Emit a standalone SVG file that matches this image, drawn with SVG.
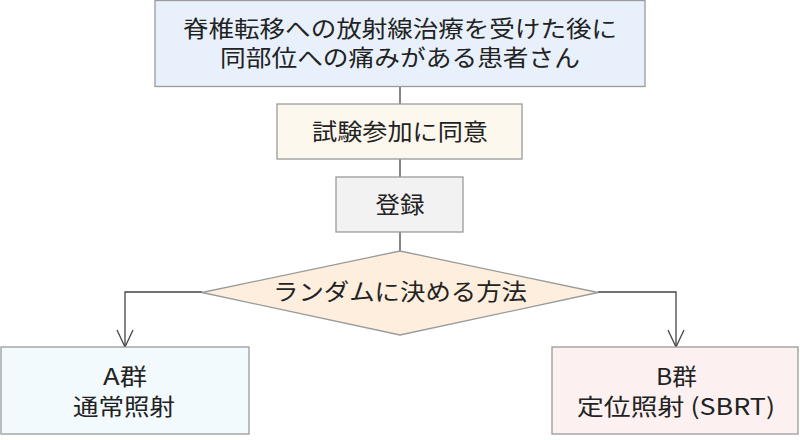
<svg xmlns="http://www.w3.org/2000/svg" width="800" height="440" viewBox="0 0 800 440">
  <style>
    .box { stroke: #9a9a9a; stroke-width: 1.3; }
    .lbl { font-family: "Noto Sans CJK JP", "Noto Sans", sans-serif; font-size: 23px; fill: #222; text-anchor: middle; }
    .conn { fill: none; stroke: #444; stroke-width: 1.3; }
  </style>
  <defs>
    <marker id="arrow" markerUnits="userSpaceOnUse" markerWidth="20" markerHeight="20" refX="0" refY="0" viewBox="-18 -10 20 20" orient="auto" overflow="visible">
      <path d="M-17,-8 L0,0 L-17,8" fill="none" stroke="#444" stroke-width="1.3"/>
    </marker>
  </defs>
  <rect width="800" height="440" fill="#ffffff"/>

  <g id="connectors">
    <line class="conn" x1="400" y1="86" x2="400" y2="104"/>
    <line class="conn" x1="400" y1="159" x2="400" y2="177"/>
    <line class="conn" x1="400" y1="232" x2="400" y2="251"/>
    <path class="conn" d="M202,292 H125 V347" marker-end="url(#arrow)"/>
    <path class="conn" d="M598,292 H676 V347" marker-end="url(#arrow)"/>
  </g>

  <g id="patients">
    <rect class="box" x="155" y="0.5" width="490" height="86" fill="#e8f1fb"/>
    <text class="lbl" x="400" y="37" textLength="434" lengthAdjust="spacingAndGlyphs">脊椎転移への放射線治療を受けた後に</text>
    <text class="lbl" x="400" y="66" textLength="360" lengthAdjust="spacingAndGlyphs">同部位への痛みがある患者さん</text>
  </g>

  <g id="consent">
    <rect class="box" x="277" y="104" width="245" height="55" fill="#fdf8ee"/>
    <text class="lbl" x="400" y="140" textLength="176" lengthAdjust="spacingAndGlyphs">試験参加に同意</text>
  </g>

  <g id="register">
    <rect class="box" x="336" y="177" width="127" height="55" fill="#f2f2f2"/>
    <text class="lbl" x="400" y="213" textLength="49" lengthAdjust="spacingAndGlyphs">登録</text>
  </g>

  <g id="random">
    <polygon class="box" points="400,251 598,292.5 400,335 202,292.5" fill="#fdeedd"/>
    <text class="lbl" x="400" y="300" textLength="254" lengthAdjust="spacingAndGlyphs">ランダムに決める方法</text>
  </g>

  <g id="groupA">
    <rect class="box" x="1" y="347" width="248" height="87" fill="#f3fafd"/>
    <text class="lbl" x="125" y="385" textLength="44" lengthAdjust="spacingAndGlyphs">A群</text>
    <text class="lbl" x="124" y="415" textLength="102" lengthAdjust="spacingAndGlyphs">通常照射</text>
  </g>

  <g id="groupB">
    <rect class="box" x="552" y="347" width="246" height="87" fill="#fdf0f0"/>
    <text class="lbl" x="676.5" y="385" textLength="41" lengthAdjust="spacingAndGlyphs">B群</text>
    <text class="lbl" x="676" y="415" textLength="198" lengthAdjust="spacingAndGlyphs">定位照射 (SBRT)</text>
  </g>
</svg>
